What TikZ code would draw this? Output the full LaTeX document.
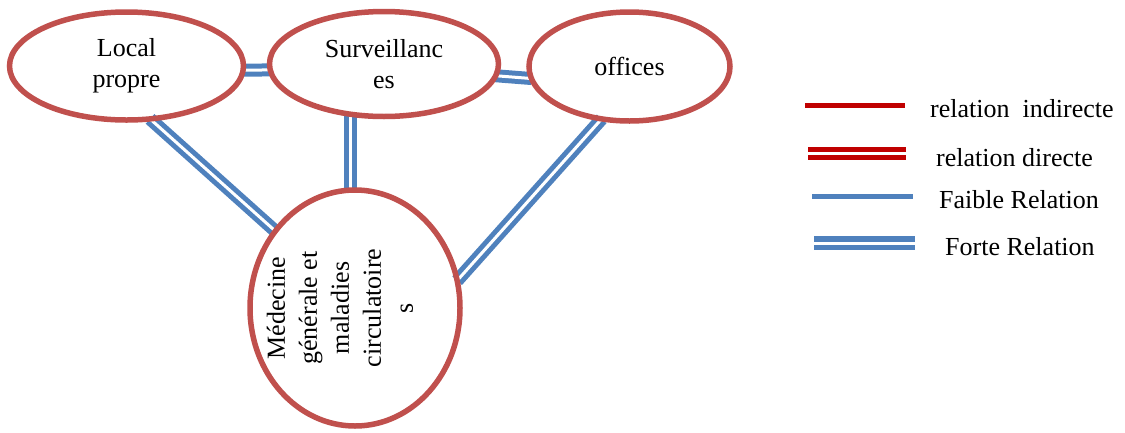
\documentclass[tikz,border=0pt]{standalone}
\usepackage{fontspec}
\usepackage{graphicx}
\setmainfont{Liberation Serif}
\usetikzlibrary{shapes.geometric,backgrounds}
\definecolor{bubblered}{HTML}{C0504D}
\definecolor{linkblue}{HTML}{4F81BD}
\definecolor{legendred}{HTML}{C00000}
\begin{document}
\begin{tikzpicture}[x=1pt,y=-1pt,
  bubble/.style={ellipse, draw=bubblered, line width=5.5pt, inner sep=0pt,
    outer sep=0pt, align=center, font=\fontsize{26}{31}\selectfont},
  strong/.style={draw=linkblue, double=white, line width=5pt, double distance=3pt},
  keytext/.style={anchor=base west, inner sep=0pt, font=\fontsize{26}{31}\selectfont},
  redsingle/.style={draw=legendred, line width=5pt},
  reddouble/.style={draw=legendred, double=white, line width=4.5pt, double distance=3.5pt},
  bluesingle/.style={draw=linkblue, line width=5.5pt},
  bluedouble/.style={draw=linkblue, double=white, line width=5.5pt, double distance=3pt}
]
\useasboundingbox (0,0) rectangle (1125,432);

% the four domains
\node[bubble, minimum width=234pt, minimum height=108pt] (local) at (126.5,66) {Local\\propre};
\node[bubble, minimum width=229pt, minimum height=105pt] (surv) at (384,64) {Surveillanc\\es};
\node[bubble, minimum width=201pt, minimum height=109pt] (offices) at (629.5,66.5) {offices};
\node[bubble, minimum width=210pt, minimum height=236pt] (med) at (355,308)
  {\makebox[0pt]{\rotatebox{90}{\fontsize{26}{32}\selectfont
   \begin{tabular}{@{}c@{}}Médecine\\générale et\\maladies\\circulatoire\\s\end{tabular}}\hspace*{25pt}}};

% strong relations between the domains
\begin{scope}[on background layer]
  \draw[strong] (local.-2) -- (surv.-177);
  \draw[strong] (surv.-6.7) -- (offices.-173.9);
  \draw[strong] (local.-66) -- (med.136);
  \draw[strong] (surv.-124) -- (surv.-124 |- med.north);
  \draw[strong] (offices.-118) -- (med.15);
\end{scope}

% legend
\coordinate (k1a) at (805,105);   \coordinate (k1b) at (905,105);
\coordinate (k2a) at (808,153.3); \coordinate (k2b) at (906,153.3);
\coordinate (k3a) at (812,196.5); \coordinate (k3b) at (913,196.5);
\coordinate (k4a) at (814,243);   \coordinate (k4b) at (915,243);
\draw[redsingle]  (k1a) -- (k1b);
\draw[reddouble]  (k2a) -- (k2b);
\draw[bluesingle] (k3a) -- (k3b);
\draw[bluedouble] (k4a) -- (k4b);
\node[keytext] (t1) at (930,117.3) {relation\ \ indirecte};
\node[keytext] (t2) at (936,166) {relation directe};
\node[keytext] (t3) at (939,208) {Faible Relation};
\node[keytext] (t4) at (945,255.7) {Forte Relation};
\end{tikzpicture}
\end{document}
